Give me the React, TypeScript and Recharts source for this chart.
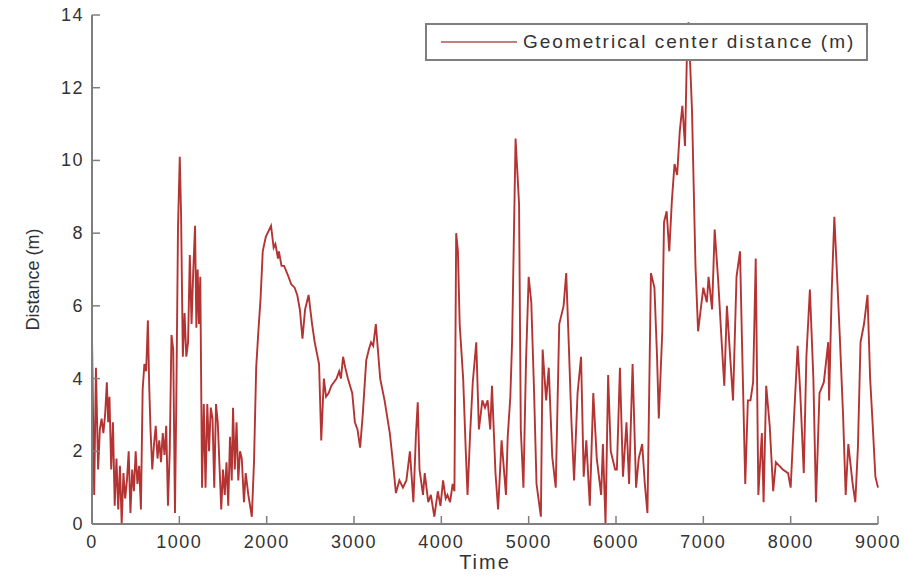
import { LineChart, Line, XAxis, YAxis, Legend } from 'recharts';

// time samples (s) and the geometrical centre distance (m)
const TIME = [
  0, 25, 45, 70, 90, 110, 130, 150, 170, 185, 200, 220, 240, 260, 280, 300, 320, 340, 360, 380,
  400, 420, 440, 460, 480, 500, 520, 540, 560, 580, 600, 620, 640, 655, 670, 690, 710, 730, 750, 770,
  790, 810, 830, 850, 870, 890, 910, 930, 950, 965, 985, 1005, 1020, 1040, 1060, 1080, 1100, 1120, 1140, 1160,
  1180, 1195, 1210, 1225, 1240, 1260, 1280, 1300, 1320, 1340, 1360, 1380, 1400, 1420, 1440, 1460, 1480, 1500, 1520, 1540,
  1560, 1580, 1600, 1615, 1635, 1655, 1675, 1695, 1715, 1740, 1760, 1790, 1830, 1855, 1880, 1905, 1930, 1955, 1990, 2050,
  2080, 2100, 2130, 2140, 2170, 2200, 2250, 2280, 2320, 2350, 2380, 2410, 2440, 2480, 2520, 2550, 2600, 2625, 2655, 2680,
  2710, 2740, 2770, 2800, 2830, 2850, 2875, 2900, 2930, 2980, 3010, 3040, 3070, 3100, 3140, 3170, 3195, 3220, 3250, 3300,
  3350, 3410, 3450, 3480, 3520, 3560, 3600, 3640, 3680, 3710, 3730, 3750, 3790, 3810, 3850, 3880, 3920, 3960, 3990, 4020,
  4050, 4070, 4100, 4130, 4150, 4170, 4190, 4210, 4250, 4280, 4300, 4330, 4360, 4400, 4430, 4470, 4500, 4530, 4560, 4580,
  4620, 4650, 4690, 4740, 4760, 4790, 4810, 4850, 4890, 4910, 4940, 4970, 5000, 5030, 5060, 5090, 5140, 5160, 5200, 5230,
  5270, 5310, 5350, 5400, 5430, 5460, 5490, 5520, 5560, 5600, 5630, 5660, 5700, 5740, 5780, 5830, 5850, 5880, 5910, 5940,
  5990, 6010, 6045, 6080, 6120, 6150, 6190, 6230, 6260, 6300, 6330, 6360, 6400, 6440, 6470, 6490, 6530, 6550, 6580, 6610,
  6640, 6670, 6700, 6730, 6760, 6790, 6810, 6830, 6850, 6870, 6910, 6940, 6970, 7000, 7040, 7060, 7100, 7130, 7170, 7210,
  7240, 7270, 7310, 7340, 7380, 7420, 7440, 7480, 7510, 7540, 7570, 7600, 7630, 7670, 7690, 7720, 7760, 7800, 7830, 7870,
  7910, 7970, 8000, 8040, 8080, 8110, 8150, 8180, 8220, 8260, 8290, 8330, 8380, 8430, 8440, 8470, 8500, 8530, 8560, 8600,
  8630, 8660, 8710, 8740, 8770, 8800, 8840, 8880, 8910, 8940, 8970, 9000,
];

const DISTANCE = [
  5.1, 0.8, 4.3, 1.5, 2.6, 2.9, 2.5, 3.0, 3.9, 2.8, 3.5, 1.5, 2.8, 0.5, 1.8, 0.4, 1.6, 0.0, 1.4, 0.7,
  1.2, 2.0, 0.3, 1.5, 0.9, 2.0, 1.1, 1.6, 0.4, 3.7, 4.4, 4.2, 5.6, 3.8, 2.6, 1.5, 2.2, 2.7, 1.8, 2.3,
  1.7, 2.5, 1.9, 2.7, 0.5, 2.0, 5.2, 4.8, 0.3, 3.3, 8.2, 10.1, 8.5, 4.6, 5.8, 4.6, 5.0, 7.4, 5.5, 7.0,
  8.2, 5.4, 7.0, 5.5, 6.8, 1.0, 3.3, 1.0, 3.3, 2.0, 3.2, 2.9, 1.0, 3.3, 2.8, 1.6, 0.4, 1.5, 0.8, 1.7,
  0.5, 2.4, 1.2, 3.2, 1.5, 2.8, 1.2, 2.0, 1.8, 0.6, 1.4, 0.8, 0.2, 1.7, 4.3, 5.3, 6.2, 7.5, 7.9, 8.2,
  7.6, 7.7, 7.3, 7.5, 7.1, 7.1, 6.8, 6.6, 6.5, 6.3, 5.9, 5.1, 5.9, 6.3, 5.5, 5.0, 4.4, 2.3, 4.0, 3.5,
  3.6, 3.8, 3.9, 4.0, 4.2, 4.0, 4.6, 4.3, 4.0, 3.6, 2.8, 2.6, 2.1, 3.0, 4.5, 4.8, 5.0, 4.9, 5.5, 4.0,
  3.4, 2.5, 1.6, 0.85, 1.2, 1.0, 1.2, 2.0, 0.6, 2.5, 3.35, 1.5, 0.8, 1.4, 0.6, 0.8, 0.2, 0.9, 0.5, 1.2,
  0.7, 0.8, 0.6, 1.1, 0.9, 8.0, 7.5, 5.5, 4.0, 2.0, 0.8, 2.5, 3.9, 5.0, 2.6, 3.4, 3.2, 3.4, 2.6, 3.8,
  1.4, 0.4, 2.3, 0.8, 2.4, 3.5, 5.0, 10.6, 8.8, 2.6, 1.0, 4.5, 6.8, 6.1, 3.8, 1.1, 0.2, 4.8, 3.4, 4.3,
  1.85, 1.0, 5.5, 6.0, 6.9, 4.9, 2.8, 1.2, 3.6, 4.6, 1.3, 2.3, 0.5, 3.6, 1.8, 0.8, 2.2, 0.0, 4.1, 2.0,
  1.5, 1.5, 4.3, 1.3, 2.8, 1.1, 4.4, 1.0, 1.8, 2.2, 1.1, 0.3, 6.9, 6.5, 4.6, 2.9, 5.3, 8.3, 8.6, 7.5,
  8.9, 9.9, 9.6, 10.8, 11.5, 10.4, 12.7, 13.8, 12.6, 11.4, 7.1, 5.3, 5.9, 6.5, 6.1, 6.8, 5.9, 8.1, 6.7, 5.0,
  3.8, 6.0, 4.5, 3.4, 6.8, 7.5, 5.3, 1.1, 3.4, 3.4, 3.9, 7.3, 0.8, 2.5, 0.6, 3.8, 2.7, 0.9, 1.7, 1.6,
  1.5, 1.4, 1.0, 3.0, 4.9, 3.6, 1.4, 4.6, 6.45, 4.0, 0.6, 3.6, 3.9, 5.0, 3.4, 6.4, 8.45, 6.9, 5.3, 3.0,
  0.8, 2.2, 1.1, 0.6, 2.1, 5.0, 5.5, 6.3, 4.0, 2.7, 1.3, 1.0,
];

const X_TICKS = [0, 1000, 2000, 3000, 4000, 5000, 6000, 7000, 8000, 9000];
const Y_TICKS = [0, 2, 4, 6, 8, 10, 12, 14];

const SERIES_NAME = 'Geometrical center distance (m)';

const data = TIME.map((t, i) => ({ time: t, distance: DISTANCE[i] }));

const FONT = '"Liberation Sans", Arial, Helvetica, sans-serif';
const AXIS = '#7f7f7f';
const TEXT = '#333333';
const LINE = '#b43434';

const PLOT_TOP = 15;
const PLOT_BOTTOM = 524;
const PLOT_LEFT = 92;
const PLOT_RIGHT = 878;
const TICK = 8;

const BottomTick = (props: any) => {
  const { x, payload } = props;
  return (
    <g>
      <line x1={x} x2={x} y1={PLOT_BOTTOM} y2={PLOT_BOTTOM - TICK} stroke={AXIS} strokeWidth={1.5} />
      <text x={x} y={PLOT_BOTTOM + 24} textAnchor="middle" fontSize={18} letterSpacing={1.5} fill={TEXT} fontFamily={FONT}>
        {payload.value}
      </text>
    </g>
  );
};

const TopTick = (props: any) => {
  const { x } = props;
  return <line x1={x} x2={x} y1={PLOT_TOP} y2={PLOT_TOP + TICK} stroke={AXIS} strokeWidth={1.5} />;
};

const LeftTick = (props: any) => {
  const { y, payload } = props;
  return (
    <g>
      <line x1={PLOT_LEFT} x2={PLOT_LEFT + TICK} y1={y} y2={y} stroke={AXIS} strokeWidth={1.5} />
      <text x={PLOT_LEFT - 8} y={y + 6} textAnchor="end" fontSize={18} letterSpacing={1.5} fill={TEXT} fontFamily={FONT}>
        {payload.value}
      </text>
    </g>
  );
};

const RightTick = (props: any) => {
  const { y } = props;
  return <line x1={PLOT_RIGHT} x2={PLOT_RIGHT - TICK} y1={y} y2={y} stroke={AXIS} strokeWidth={1.5} />;
};

const LegendBox = () => (
  <div
    style={{
      boxSizing: 'border-box',
      width: 443,
      height: 38,
      border: `2px solid ${AXIS}`,
      background: '#fff',
      display: 'flex',
      alignItems: 'center',
      fontFamily: FONT,
      fontSize: 19,
      letterSpacing: 2,
      color: TEXT,
    }}
  >
    <svg width={96} height={20} style={{ flex: 'none' }}>
      <line x1={14} x2={90} y1={10} y2={10} stroke="#c08080" strokeWidth={2} />
    </svg>
    <span style={{ whiteSpace: 'nowrap' }}>{SERIES_NAME}</span>
  </div>
);

export default function App() {
  return (
    <div style={{ position: 'absolute', left: 0, top: 0, width: 906, height: 577, background: '#fff' }}>
      <LineChart width={906} height={577} data={data} margin={{ top: PLOT_TOP, right: 906 - PLOT_RIGHT, bottom: 0, left: 0 }}>
        <XAxis
          xAxisId="bottom"
          dataKey="time"
          type="number"
          domain={[0, 9000]}
          ticks={X_TICKS}
          height={577 - PLOT_BOTTOM}
          tickLine={false}
          tick={BottomTick}
          axisLine={{ stroke: AXIS, strokeWidth: 2 }}
          interval={0}
          label={{ value: 'Time', position: 'insideBottom', offset: 8, fontSize: 20, fill: TEXT, fontFamily: FONT, letterSpacing: 2 }}
        />
        <XAxis
          xAxisId="top"
          orientation="top"
          dataKey="time"
          type="number"
          domain={[0, 9000]}
          ticks={X_TICKS}
          height={0}
          tickLine={false}
          tick={TopTick}
          axisLine={{ stroke: AXIS, strokeWidth: 2 }}
          interval={0}
        />
        <YAxis
          yAxisId="left"
          type="number"
          domain={[0, 14]}
          ticks={Y_TICKS}
          width={PLOT_LEFT}
          tickLine={false}
          tick={LeftTick}
          axisLine={{ stroke: AXIS, strokeWidth: 2 }}
          interval={0}
          label={{ value: 'Distance (m)', angle: -90, position: 'insideLeft', offset: 33, dy: 10, fontSize: 18, fill: TEXT, fontFamily: FONT, style: { textAnchor: 'middle' } }}
        />
        <YAxis
          yAxisId="right"
          orientation="right"
          type="number"
          domain={[0, 14]}
          ticks={Y_TICKS}
          width={0}
          tickLine={false}
          tick={RightTick}
          axisLine={{ stroke: AXIS, strokeWidth: 2 }}
          interval={0}
        />
        <Legend
          layout="vertical"
          align="center"
          verticalAlign="middle"
          content={LegendBox}
          wrapperStyle={{ position: 'absolute', left: 425, top: 23, width: 443, height: 38 }}
        />
        <Line
          xAxisId="bottom"
          yAxisId="left"
          type="linear"
          dataKey="distance"
          name={SERIES_NAME}
          stroke={LINE}
          strokeWidth={1.9}
          dot={false}
          isAnimationActive={false}
        />
      </LineChart>
    </div>
  );
}
